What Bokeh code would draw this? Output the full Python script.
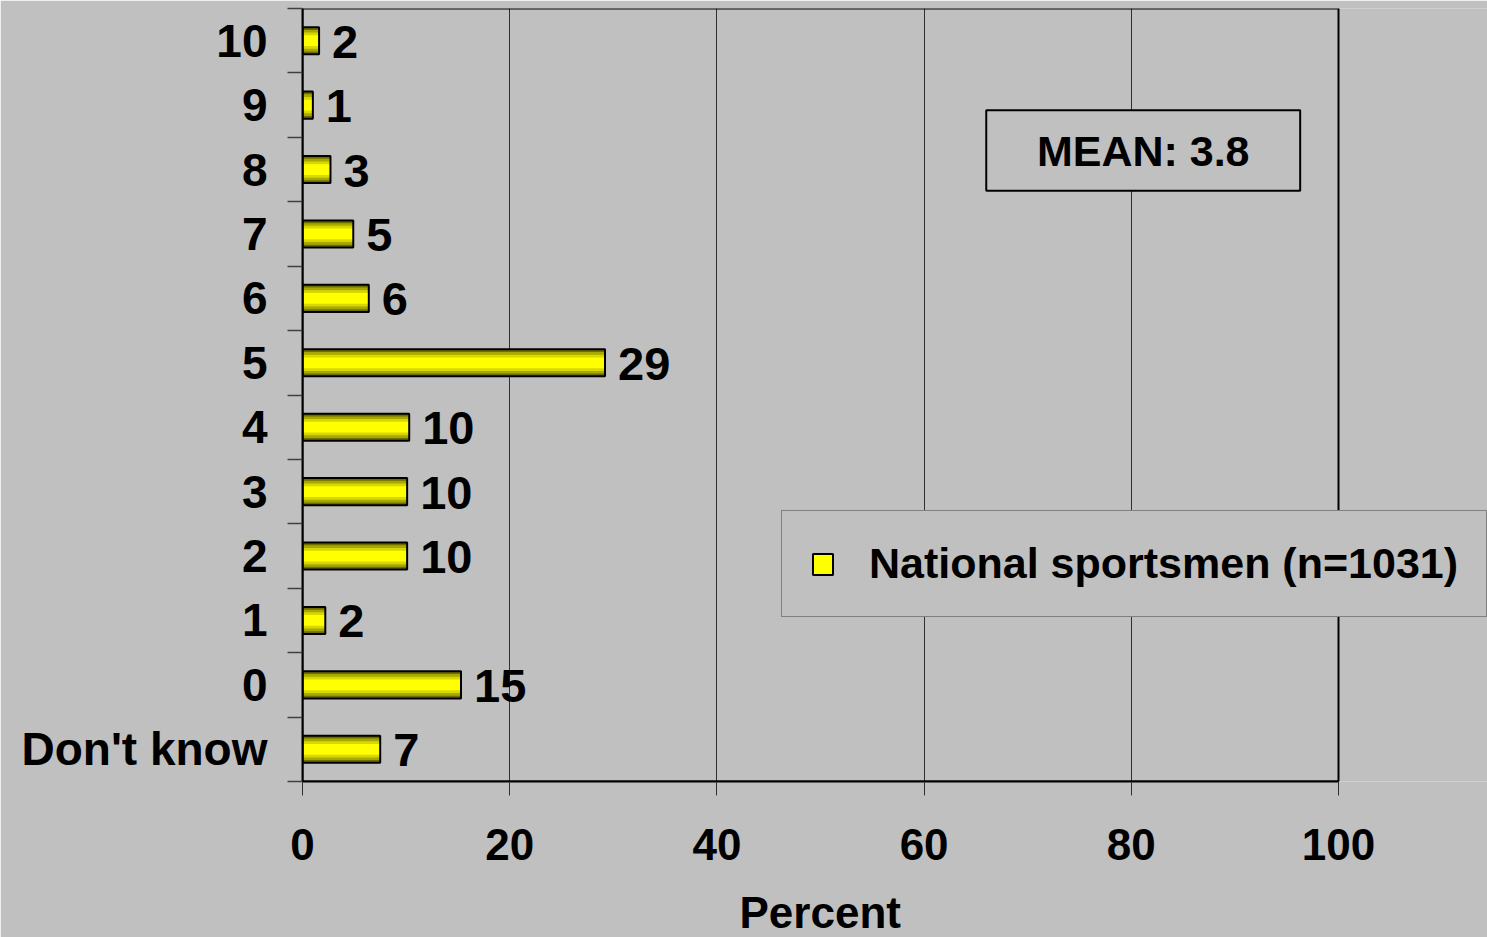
from bokeh.plotting import figure
from bokeh.models import (ColumnDataSource, FixedTicker, Range1d, BoxAnnotation, Label,
                          Legend, LegendItem, Title)
from bokeh.core.properties import value
from bokeh.embed import file_html
from bokeh.resources import INLINE

# ---- data (bottom to top) ----
categories = ["Don't know", "0", "1", "2", "3", "4", "5", "6", "7", "8", "9", "10"]
percent = [7.5, 15.3, 2.2, 10.1, 10.1, 10.3, 29.2, 6.4, 4.9, 2.7, 1.0, 1.6]
value_labels = ["7", "15", "2", "10", "10", "10", "29", "6", "5", "3", "1", "2"]
series_name = "National sportsmen (n=1031)"
mean_text = "MEAN: 3.8"
x_title = "Percent"
x_ticks = [0, 20, 40, 60, 80, 100]

FONT = "Liberation Sans"
BG = "#C0C0C0"

W, H = 1487, 937
LEFT, RIGHT_AXIS_PX, TOP, BOTTOM = 302, 1338, 8, 781
# axis scale runs 0..100 over LEFT..RIGHT_AXIS_PX; the frame extends to the page edge
x_end = 100 * (W - LEFT) / (RIGHT_AXIS_PX - LEFT)

pos = [i + 0.5 for i in range(len(categories))]
src = ColumnDataSource(dict(y=pos, x=percent, lab=value_labels))

p = figure(width=W, height=H, output_backend="svg", toolbar_location=None,
           x_range=Range1d(0, x_end), y_range=Range1d(0, len(categories)),
           min_border_left=LEFT, min_border_right=0, min_border_top=TOP,
           min_border_bottom=H - BOTTOM)
p.background_fill_color = BG
p.border_fill_color = BG
p.outline_line_color = None

# bars with banded shading (dark edges, bright centre)
bar_h = 0.42
bands = [(1.0, "#6E6E00"), (0.8, "#A8A800"), (0.6, "#D8D800"), (0.4, "#FFFF00")]
band_renderers = []
for frac, col in bands:
    r = p.hbar(y="y", right="x", left=0, height=bar_h * frac, source=src,
               fill_color=col, line_color=None)
    band_renderers.append(r)
outline = p.hbar(y="y", right="x", left=0, height=bar_h, source=src,
                 fill_color=None, line_color="black", line_width=2)

# value labels
p.text(x="x", y="y", text="lab", source=src, x_offset=13, y_offset=1,
       text_font=value(FONT), text_font_style="bold", text_font_size="47px",
       text_baseline="middle", text_align="left", text_color="black")

# axes
xa = p.xaxis[0]
xa.ticker = FixedTicker(ticks=x_ticks)
xa.bounds = (0, 100)
xa.axis_line_color = "black"
xa.axis_line_width = 2
xa.major_tick_out = 14
xa.major_tick_in = 0
xa.major_tick_line_color = "#303030"
xa.minor_tick_line_color = None
xa.major_label_standoff = 33
xa.major_label_text_font = FONT
xa.major_label_text_font_style = "bold"
xa.major_label_text_font_size = "44px"
xa.major_label_text_color = "black"
# blank axis label used only as vertical spacing before the title below
xa.axis_label = " "
xa.axis_label_text_font_size = "1px"
xa.axis_label_standoff = 27

# axis title, placed under the 0..100 part of the axis
p.add_layout(Title(text=x_title, align="left", offset=437, vertical_align="bottom",
                   standoff=-16, text_font=FONT, text_font_style="bold",
                   text_font_size="44px", text_color="black"), "below")

ya = p.yaxis[0]
ya.ticker = FixedTicker(ticks=pos, minor_ticks=list(range(len(categories) + 1)))
ya.major_label_overrides = {pp: c for pp, c in zip(pos, categories)}
ya.axis_line_color = "black"
ya.axis_line_width = 2
ya.major_tick_out = 0
ya.major_tick_in = 0
ya.major_tick_line_color = None
ya.minor_tick_out = 15
ya.minor_tick_in = 0
ya.minor_tick_line_color = "#404040"
ya.minor_tick_line_width = 1.5
ya.major_label_standoff = 20
ya.major_label_text_font = FONT
ya.major_label_text_font_style = "bold"
ya.major_label_text_font_size = "46px"
ya.major_label_text_color = "black"

p.xgrid.ticker = FixedTicker(ticks=x_ticks)
p.xgrid.grid_line_color = "#303030"
p.xgrid.grid_line_width = 1
p.ygrid.grid_line_color = None

# plot-area border (0..100 x, full y)
p.add_layout(BoxAnnotation(left=0, right=100, top=len(categories), bottom=0,
                           fill_alpha=0, line_color="black", line_alpha=1.0,
                           line_width=2))

# mean box
p.add_layout(BoxAnnotation(left=66.0, right=96.3, top=10.42, bottom=9.17,
                           fill_color=BG, fill_alpha=1.0,
                           line_color="black", line_alpha=1.0, line_width=2))
p.add_layout(Label(x=81.15, y=9.795, text=mean_text, text_align="center",
                   text_baseline="middle", text_font=FONT, text_font_style="bold",
                   text_font_size="43px", text_color="black"))

# legend
legend = Legend(items=[LegendItem(label=series_name,
                                  renderers=[band_renderers[-1], outline])],
                location=(479, 164), orientation="vertical",
                padding=28, margin=0, glyph_width=25, glyph_height=26,
                label_standoff=34, spacing=0,
                label_text_font=FONT, label_text_font_style="bold",
                label_text_font_size="43px", label_text_color="black",
                border_line_color="#404040", border_line_width=1,
                background_fill_color=BG, background_fill_alpha=1.0)
p.add_layout(legend, "center")

open("out.html", "w").write(file_html(p, INLINE))
